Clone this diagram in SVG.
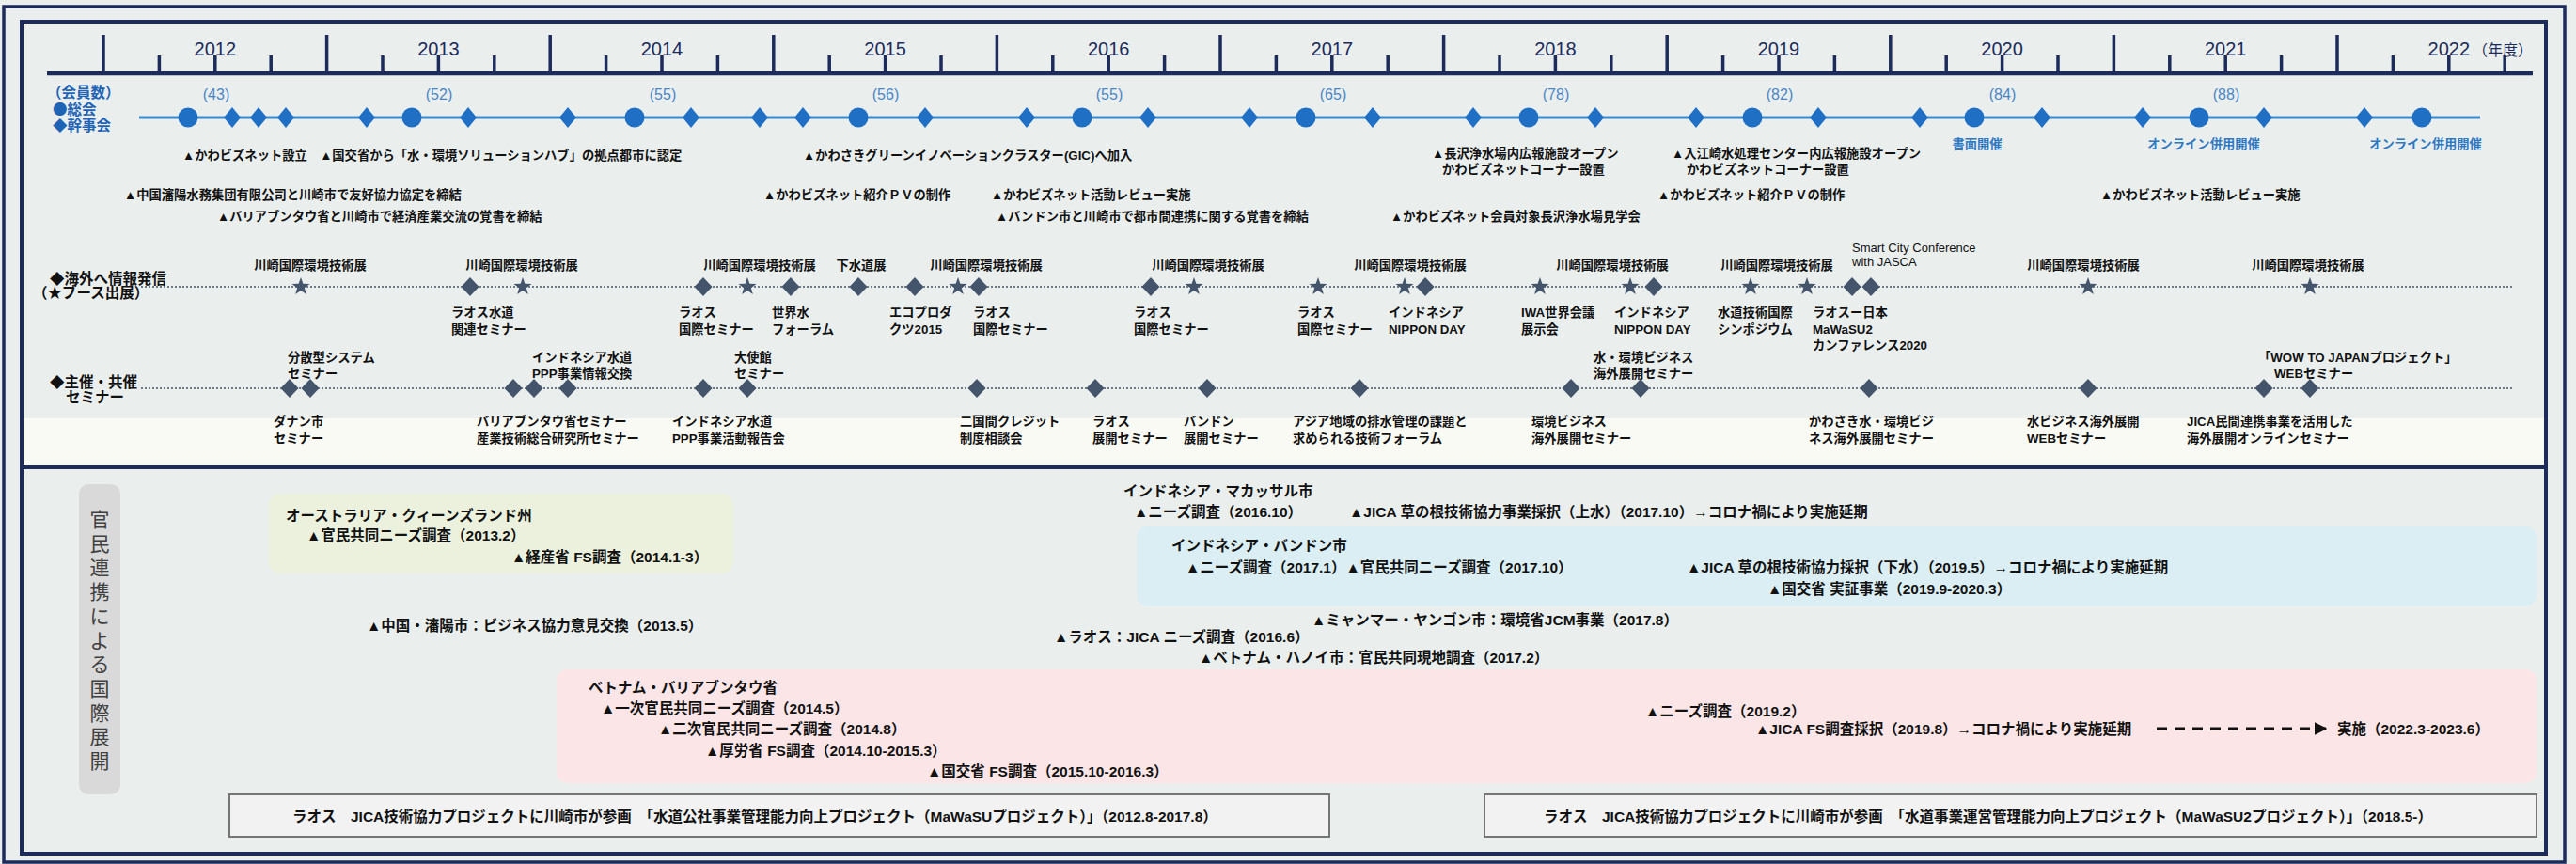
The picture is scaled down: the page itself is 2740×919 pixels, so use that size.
<svg xmlns="http://www.w3.org/2000/svg" width="2740" height="919" viewBox="0 0 2740 919">
<style>
.ev{font-family:"Liberation Sans","Noto Sans CJK JP",sans-serif;font-size:13.3px;font-weight:bold;fill:#111}
.bt{font-family:"Liberation Sans","Noto Sans CJK JP",sans-serif;font-size:15.5px;font-weight:bold;fill:#111}
.yr{font-family:"Liberation Sans","Noto Sans CJK JP",sans-serif;font-size:20px;fill:#1c2b5a;text-anchor:middle}
.cnt{font-family:"Liberation Sans","Noto Sans CJK JP",sans-serif;font-size:16px;fill:#4a86c5;text-anchor:middle}
.lg{font-family:"Noto Sans CJK JP",sans-serif;font-size:15.5px;font-weight:bold;fill:#1f63b5}
.bn{font-family:"Liberation Sans","Noto Sans CJK JP",sans-serif;font-size:13.3px;font-weight:bold;fill:#2e78c2;text-anchor:middle}
.sec{font-family:"Liberation Sans","Noto Sans CJK JP",sans-serif;font-size:15.5px;font-weight:bold;fill:#111}
.en{font-family:"Liberation Sans","Noto Sans CJK JP",sans-serif;font-size:13px;fill:#111}
.mid{text-anchor:middle}
.sd{font-family:"Noto Sans CJK JP",sans-serif;font-size:21px;fill:#404040;text-anchor:middle}
.tick{stroke:#1c2b5a;stroke-width:3.5;fill:none}
.dot{stroke:#44546a;stroke-width:1.5;stroke-dasharray:2 2;fill:none}
.frame{fill:none;stroke:#1c2b5a}
.pbox{fill:#f2f2f2;stroke:#767676;stroke-width:2}
</style>
<defs>
<path id="bd" d="M0,-11L9,0L0,11L-9,0Z" fill="#1f6fc5"/>
<circle id="bc" r="10.5" fill="#1f6fc5"/>
<path id="gd" d="M0,-10L9.5,0L0,10L-9.5,0Z" fill="#44546a"/>
<path id="st" d="M0,-10L2.35,-3.24L9.51,-3.09L3.8,1.24L5.88,8.09L0,4L-5.88,8.09L-3.8,1.24L-9.51,-3.09L-2.35,-3.24Z" fill="#44546a"/>
<marker id="ah" viewBox="0 0 10 10" refX="9" refY="5" markerWidth="4.5" markerHeight="4.5" orient="auto"><path d="M0,0L10,5L0,10Z" fill="#111"/></marker>
</defs>
<rect x="0" y="0" width="2740" height="919" fill="#eaefee"/>
<rect x="4" y="7" width="2724" height="910" fill="#f4f6f6" class="frame" stroke-width="3.5"/>
<rect x="23" y="23" width="2685" height="885" fill="#f8f8f8" class="frame" stroke-width="4"/>
<rect x="25" y="445" width="2681" height="50" fill="#fafaf5"/>
<line x1="23" y1="497" x2="2708" y2="497" stroke="#1c2b5a" stroke-width="4"/>

<g id="axis">
<line x1="50" y1="78" x2="2694" y2="78" stroke="#1c2b5a" stroke-width="4.5"/>
<path class="tick" d="M110 37V78M347.6 37V78M585.2 37V78M822.8 37V78M1060.4 37V78M1298 37V78M1535.6 37V78M1773.2 37V78M2010.8 37V78M2248.4 37V78M2486 37V78"/>
<path class="tick" d="M169.4 59V78M228.8 59V78M288.2 59V78M407 59V78M466.4 59V78M525.8 59V78M644.6 59V78M704 59V78M763.4 59V78M882.2 59V78M941.6 59V78M1001 59V78M1119.8 59V78M1179.2 59V78M1238.6 59V78M1357.4 59V78M1416.8 59V78M1476.2 59V78M1595 59V78M1654.4 59V78M1713.8 59V78M1832.6 59V78M1892 59V78M1951.4 59V78M2070.2 59V78M2129.6 59V78M2189 59V78M2307.8 59V78M2367.2 59V78M2426.6 59V78M2545.4 59V78M2604.8 59V78M2664.2 59V78"/>
<text class="yr" x="228.8" y="59">2012</text>
<text class="yr" x="466.4" y="59">2013</text>
<text class="yr" x="704" y="59">2014</text>
<text class="yr" x="941.6" y="59">2015</text>
<text class="yr" x="1179.2" y="59">2016</text>
<text class="yr" x="1416.8" y="59">2017</text>
<text class="yr" x="1654.4" y="59">2018</text>
<text class="yr" x="1892" y="59">2019</text>
<text class="yr" x="2129.6" y="59">2020</text>
<text class="yr" x="2367.2" y="59">2021</text>
<text class="yr" x="2604.8" y="59">2022</text>
<text x="2630" y="59" font-family="Liberation Sans,Noto Sans CJK JP,sans-serif" font-size="16" fill="#1c2b5a">（年度）</text>
</g>

<g id="timelines">
<line x1="148" y1="125" x2="2638" y2="125" stroke="#3a8ccf" stroke-width="3"/>
<line class="dot" x1="150" y1="305" x2="2674" y2="305"/>
<line class="dot" x1="150" y1="413" x2="2674" y2="413"/>
</g>

<g id="members">
<text class="lg" x="50" y="104">（会員数）</text>
<text class="lg" x="56" y="122">●総会</text>
<text class="lg" x="56" y="139">◆幹事会</text>
<text class="cnt" x="230" y="106">(43)</text>
<text class="cnt" x="467" y="106">(52)</text>
<text class="cnt" x="705" y="106">(55)</text>
<text class="cnt" x="942" y="106">(56)</text>
<text class="cnt" x="1180" y="106">(55)</text>
<text class="cnt" x="1418" y="106">(65)</text>
<text class="cnt" x="1655" y="106">(78)</text>
<text class="cnt" x="1893" y="106">(82)</text>
<text class="cnt" x="2130" y="106">(84)</text>
<text class="cnt" x="2368" y="106">(88)</text>
<use href="#bc" x="200" y="125"/><use href="#bc" x="438" y="125"/><use href="#bc" x="675" y="125"/><use href="#bc" x="913" y="125"/><use href="#bc" x="1151" y="125"/><use href="#bc" x="1389" y="125"/><use href="#bc" x="1626" y="125"/><use href="#bc" x="1864" y="125"/><use href="#bc" x="2100" y="125"/><use href="#bc" x="2339" y="125"/><use href="#bc" x="2576" y="125"/>
<use href="#bd" x="247" y="125"/><use href="#bd" x="275" y="125"/><use href="#bd" x="304" y="125"/><use href="#bd" x="390" y="125"/><use href="#bd" x="498" y="125"/><use href="#bd" x="604" y="125"/><use href="#bd" x="735" y="125"/><use href="#bd" x="808" y="125"/><use href="#bd" x="854" y="125"/><use href="#bd" x="984" y="125"/><use href="#bd" x="1092" y="125"/><use href="#bd" x="1221" y="125"/><use href="#bd" x="1329" y="125"/><use href="#bd" x="1460" y="125"/><use href="#bd" x="1567" y="125"/><use href="#bd" x="1697" y="125"/><use href="#bd" x="1804" y="125"/><use href="#bd" x="1934" y="125"/><use href="#bd" x="2042" y="125"/><use href="#bd" x="2172" y="125"/><use href="#bd" x="2279" y="125"/><use href="#bd" x="2408" y="125"/><use href="#bd" x="2515" y="125"/>
<text class="bn" x="2103" y="158">書面開催</text>
<text class="bn" x="2344" y="158">オンライン併用開催</text>
<text class="bn" x="2580" y="158">オンライン併用開催</text>
</g>

<g id="events">
<text class="ev" x="194" y="170">▲かわビズネット設立　▲国交省から「水・環境ソリューションハブ」の拠点都市に認定</text>
<text class="ev" x="854" y="170">▲かわさきグリーンイノベーションクラスター(GIC)へ加入</text>
<text class="ev" x="1523" y="168">▲長沢浄水場内広報施設オープン</text>
<text class="ev" x="1534" y="185">かわビズネットコーナー設置</text>
<text class="ev" x="1778" y="168">▲入江崎水処理センター内広報施設オープン</text>
<text class="ev" x="1794" y="185">かわビズネットコーナー設置</text>
<text class="ev" x="132" y="212">▲中国瀋陽水務集団有限公司と川崎市で友好協力協定を締結</text>
<text class="ev" x="812" y="212">▲かわビズネット紹介ＰＶの制作</text>
<text class="ev" x="1054" y="212">▲かわビズネット活動レビュー実施</text>
<text class="ev" x="1763" y="212">▲かわビズネット紹介ＰＶの制作</text>
<text class="ev" x="2234" y="212">▲かわビズネット活動レビュー実施</text>
<text class="ev" x="231" y="235">▲バリアブンタウ省と川崎市で経済産業交流の覚書を締結</text>
<text class="ev" x="1059" y="235">▲バンドン市と川崎市で都市間連携に関する覚書を締結</text>
<text class="ev" x="1479" y="235">▲かわビズネット会員対象長沢浄水場見学会</text>
</g>

<g id="overseas">
<text class="sec" x="53" y="302">◆海外へ情報発信</text>
<text class="sec" x="35" y="317">（★ブース出展）</text>
<use href="#st" x="320" y="305"/><use href="#st" x="556" y="305"/><use href="#st" x="795" y="305"/><use href="#st" x="1019" y="305"/><use href="#st" x="1270" y="305"/><use href="#st" x="1402" y="305"/><use href="#st" x="1494" y="305"/><use href="#st" x="1638" y="305"/><use href="#st" x="1734" y="305"/><use href="#st" x="1862" y="305"/><use href="#st" x="1922" y="305"/><use href="#st" x="2221" y="305"/><use href="#st" x="2457" y="305"/>
<use href="#gd" x="500" y="305"/><use href="#gd" x="748" y="305"/><use href="#gd" x="841" y="305"/><use href="#gd" x="913" y="305"/><use href="#gd" x="973" y="305"/><use href="#gd" x="1041" y="305"/><use href="#gd" x="1224" y="305"/><use href="#gd" x="1516" y="305"/><use href="#gd" x="1759" y="305"/><use href="#gd" x="1970" y="305"/><use href="#gd" x="1990" y="305"/>
<text class="ev mid" x="330" y="287">川崎国際環境技術展</text>
<text class="ev mid" x="555" y="287">川崎国際環境技術展</text>
<text class="ev mid" x="808" y="287">川崎国際環境技術展</text>
<text class="ev mid" x="916" y="287">下水道展</text>
<text class="ev mid" x="1049" y="287">川崎国際環境技術展</text>
<text class="ev mid" x="1285" y="287">川崎国際環境技術展</text>
<text class="ev mid" x="1500" y="287">川崎国際環境技術展</text>
<text class="ev mid" x="1715" y="287">川崎国際環境技術展</text>
<text class="ev mid" x="1890" y="287">川崎国際環境技術展</text>
<text class="ev mid" x="2216" y="287">川崎国際環境技術展</text>
<text class="ev mid" x="2455" y="287">川崎国際環境技術展</text>
<text class="en" x="1970" y="268">Smart City Conference</text>
<text class="en" x="1970" y="283">with JASCA</text>
<text class="ev" x="480" y="337">ラオス水道<tspan x="480" dy="17.5">関連セミナー</tspan></text>
<text class="ev" x="722" y="337">ラオス<tspan x="722" dy="17.5">国際セミナー</tspan></text>
<text class="ev" x="821" y="337">世界水<tspan x="821" dy="17.5">フォーラム</tspan></text>
<text class="ev" x="946" y="337">エコプロダ<tspan x="946" dy="17.5">クツ2015</tspan></text>
<text class="ev" x="1035" y="337">ラオス<tspan x="1035" dy="17.5">国際セミナー</tspan></text>
<text class="ev" x="1206" y="337">ラオス<tspan x="1206" dy="17.5">国際セミナー</tspan></text>
<text class="ev" x="1380" y="337">ラオス<tspan x="1380" dy="17.5">国際セミナー</tspan></text>
<text class="ev" x="1477" y="337">インドネシア<tspan x="1477" dy="17.5">NIPPON DAY</tspan></text>
<text class="ev" x="1618" y="337">IWA世界会議<tspan x="1618" dy="17.5">展示会</tspan></text>
<text class="ev" x="1717" y="337">インドネシア<tspan x="1717" dy="17.5">NIPPON DAY</tspan></text>
<text class="ev" x="1827" y="337">水道技術国際<tspan x="1827" dy="17.5">シンポジウム</tspan></text>
<text class="ev" x="1928" y="337">ラオスー日本<tspan x="1928" dy="17.5">MaWaSU2</tspan><tspan x="1928" dy="17.5">カンファレンス2020</tspan></text>
</g>

<g id="seminars">
<text class="sec" x="53" y="412">◆主催・共催</text>
<text class="sec" x="70" y="428">セミナー</text>
<use href="#gd" x="308" y="413"/><use href="#gd" x="330" y="413"/><use href="#gd" x="546" y="413"/><use href="#gd" x="568" y="413"/><use href="#gd" x="604" y="413"/><use href="#gd" x="748" y="413"/><use href="#gd" x="795" y="413"/><use href="#gd" x="1039" y="413"/><use href="#gd" x="1165" y="413"/><use href="#gd" x="1284" y="413"/><use href="#gd" x="1446" y="413"/><use href="#gd" x="1671" y="413"/><use href="#gd" x="1745" y="413"/><use href="#gd" x="1988" y="413"/><use href="#gd" x="2221" y="413"/><use href="#gd" x="2408" y="413"/><use href="#gd" x="2457" y="413"/>
<text class="ev" x="306" y="385">分散型システム<tspan x="306" dy="17">セミナー</tspan></text>
<text class="ev" x="566" y="385">インドネシア水道<tspan x="566" dy="17">PPP事業情報交換</tspan></text>
<text class="ev" x="781" y="385">大使館<tspan x="781" dy="17">セミナー</tspan></text>
<text class="ev" x="1695" y="385">水・環境ビジネス<tspan x="1695" dy="17">海外展開セミナー</tspan></text>
<text class="ev" x="2402" y="385">「WOW TO JAPANプロジェクト」<tspan x="2419" dy="17">WEBセミナー</tspan></text>
<text class="ev" x="291" y="453">ダナン市<tspan x="291" dy="18">セミナー</tspan></text>
<text class="ev" x="507" y="453">バリアブンタウ省セミナー<tspan x="507" dy="18">産業技術総合研究所セミナー</tspan></text>
<text class="ev" x="715" y="453">インドネシア水道<tspan x="715" dy="18">PPP事業活動報告会</tspan></text>
<text class="ev" x="1021" y="453">二国間クレジット<tspan x="1021" dy="18">制度相談会</tspan></text>
<text class="ev" x="1162" y="453">ラオス<tspan x="1162" dy="18">展開セミナー</tspan></text>
<text class="ev" x="1259" y="453">バンドン<tspan x="1259" dy="18">展開セミナー</tspan></text>
<text class="ev" x="1375" y="453">アジア地域の排水管理の課題と<tspan x="1375" dy="18">求められる技術フォーラム</tspan></text>
<text class="ev" x="1629" y="453">環境ビジネス<tspan x="1629" dy="18">海外展開セミナー</tspan></text>
<text class="ev" x="1924" y="453">かわさき水・環境ビジ<tspan x="1924" dy="18">ネス海外展開セミナー</tspan></text>
<text class="ev" x="2156" y="453">水ビジネス海外展開<tspan x="2156" dy="18">WEBセミナー</tspan></text>
<text class="ev" x="2326" y="453">JICA民間連携事業を活用した<tspan x="2326" dy="18">海外展開オンラインセミナー</tspan></text>
</g>

<g id="sidebar">
<rect x="84" y="515" width="44" height="330" rx="10" fill="#d9d9d9"/>
<text class="sd"><tspan x="106" y="560">官</tspan><tspan x="106" y="585.7">民</tspan><tspan x="106" y="611.4">連</tspan><tspan x="106" y="637.1">携</tspan><tspan x="106" y="662.8">に</tspan><tspan x="106" y="688.5">よ</tspan><tspan x="106" y="714.2">る</tspan><tspan x="106" y="739.9">国</tspan><tspan x="106" y="765.6">際</tspan><tspan x="106" y="791.3">展</tspan><tspan x="106" y="817">開</tspan></text>
</g>

<g id="australia">
<rect x="286" y="525" width="494" height="85" rx="12" fill="#ebf1dd"/>
<text class="bt" x="304" y="554">オーストラリア・クィーンズランド州</text>
<text class="bt" x="326" y="575">▲官民共同ニーズ調査（2013.2）</text>
<text class="bt" x="544" y="598">▲経産省 FS調査（2014.1-3）</text>
</g>

<g id="china">
<text class="bt" x="390" y="671">▲中国・瀋陽市：ビジネス協力意見交換（2013.5）</text>
</g>

<g id="makassar">
<text class="bt" x="1195" y="528">インドネシア・マカッサル市</text>
<text class="bt" x="1206" y="550">▲ニーズ調査（2016.10）</text>
<text class="bt" x="1435" y="550">▲JICA 草の根技術協力事業採択（上水）（2017.10）→コロナ禍により実施延期</text>
</g>

<g id="bandung">
<rect x="1209" y="560" width="1489" height="85" rx="12" fill="#dbeef3"/>
<text class="bt" x="1246" y="586">インドネシア・バンドン市</text>
<text class="bt" x="1261" y="609">▲ニーズ調査（2017.1）▲官民共同ニーズ調査（2017.10）</text>
<text class="bt" x="1794" y="609">▲JICA 草の根技術協力採択（下水）（2019.5）→コロナ禍により実施延期</text>
<text class="bt" x="1880" y="632">▲国交省 実証事業（2019.9-2020.3）</text>
</g>

<g id="others">
<text class="bt" x="1395" y="665">▲ミャンマー・ヤンゴン市：環境省JCM事業（2017.8）</text>
<text class="bt" x="1121" y="683">▲ラオス：JICA ニーズ調査（2016.6）</text>
<text class="bt" x="1275" y="705">▲ベトナム・ハノイ市：官民共同現地調査（2017.2）</text>
</g>

<g id="vietnam">
<rect x="592" y="712" width="2106" height="121" rx="12" fill="#fbe5e6"/>
<text class="bt" x="626" y="737">ベトナム・バリアブンタウ省</text>
<text class="bt" x="639" y="759">▲一次官民共同ニーズ調査（2014.5）</text>
<text class="bt" x="700" y="781">▲二次官民共同ニーズ調査（2014.8）</text>
<text class="bt" x="750" y="804">▲厚労省 FS調査（2014.10-2015.3）</text>
<text class="bt" x="986" y="826">▲国交省 FS調査（2015.10-2016.3）</text>
<text class="bt" x="1750" y="762">▲ニーズ調査（2019.2）</text>
<text class="bt" x="1867" y="781">▲JICA FS調査採択（2019.8）→コロナ禍により実施延期</text>
<text class="bt" x="2486" y="781">実施（2022.3-2023.6）</text>
</g>

<g id="mawasu">
<rect class="pbox" x="244" y="845" width="1170" height="45"/>
<text class="bt" x="311" y="874">ラオス　JICA技術協力プロジェクトに川崎市が参画　「水道公社事業管理能力向上プロジェクト（MaWaSUプロジェクト）」（2012.8-2017.8）</text>
</g>
<g id="mawasu2">
<rect class="pbox" x="1579" y="845" width="1119" height="45"/>
<text class="bt" x="1642" y="874">ラオス　JICA技術協力プロジェクトに川崎市が参画　「水道事業運営管理能力向上プロジェクト（MaWaSU2プロジェクト）」（2018.5-）</text>
</g>

<g id="connectors">
<line x1="2294" y1="775" x2="2474" y2="775" stroke="#111" stroke-width="3" stroke-dasharray="11 8" marker-end="url(#ah)"/>
</g>
</svg>
